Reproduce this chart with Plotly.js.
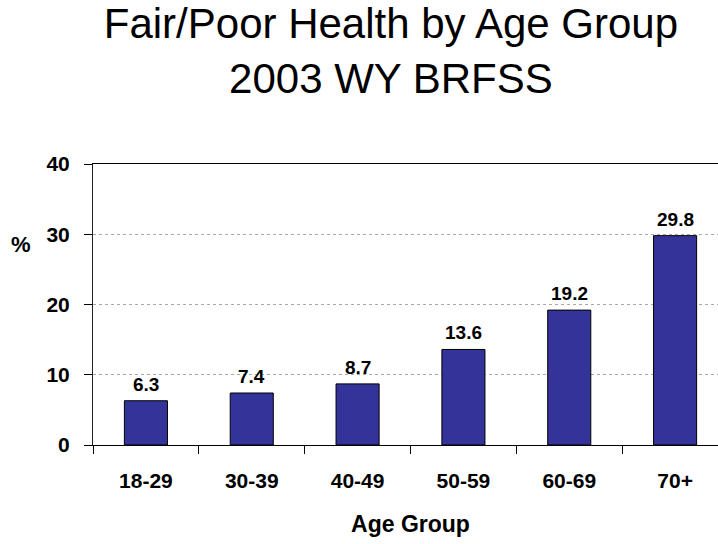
<!DOCTYPE html>
<html>
<head>
<meta charset="utf-8">
<script src="https://cdn.plot.ly/plotly-3.0.1.min.js"></script>
<style>
  html, body { margin: 0; padding: 0; overflow: hidden; background: #fff; }
  #chart { width: 728px; height: 544px; }
</style>
</head>
<body>
<div id="chart"></div>
<script>
const categories = ["18-29", "30-39", "40-49", "50-59", "60-69", "70+"];
const values = [6.3, 7.4, 8.7, 13.6, 19.2, 29.8];
const yTicks = [0, 10, 20, 30, 40];
const titleLines = ["Fair/Poor Health by Age Group", "2003 WY BRFSS"];
const xTitle = "Age Group";
const yTitle = "%";

const FONT = "Liberation Sans, Arial, sans-serif";

const trace = {
  type: "bar",
  x: categories,
  y: values,
  width: 0.407,
  marker: { color: "#333399", line: { color: "#000000", width: 1 } },
  hoverinfo: "x+y"
};

const labelAnnotations = categories.map((c, i) => ({
  x: c, y: values[i], xref: "x", yref: "y",
  text: values[i].toFixed(1),
  showarrow: false, yanchor: "bottom", yshift: 4,
  font: { family: FONT, size: 19, color: "#000", weight: "bold" }
}));

const layout = {
  width: 728, height: 544,
  margin: { l: 93, r: 0, t: 164, b: 99, pad: 0 },
  paper_bgcolor: "#ffffff", plot_bgcolor: "#ffffff",
  showlegend: false,
  bargap: 0.5,
  title: {
    text: titleLines.join("<br>"),
    font: { family: FONT, size: 42, color: "#000" },
    xref: "container", x: 0.537, xanchor: "center",
    yref: "container", y: 0.93, yanchor: "top"
  },
  xaxis: {
    type: "category",
    range: [-0.5, 5.5],
    tickson: "boundaries",
    ticks: "outside", ticklen: 8, tickcolor: "#000", tickwidth: 1,
    ticklabelstandoff: 17,
    showline: true, linecolor: "#000", linewidth: 1, mirror: true,
    showgrid: false, zeroline: false,
    tickfont: { family: FONT, size: 21, color: "#000", weight: "bold" },
    title: { text: xTitle, standoff: 24, font: { family: FONT, size: 23, color: "#000", weight: "bold" } },
    fixedrange: true
  },
  yaxis: {
    range: [0, 40],
    tickvals: yTicks,
    ticktext: yTicks.map(String),
    ticks: "outside", ticklen: 8, tickcolor: "#000", tickwidth: 1,
    ticklabelstandoff: 10,
    showline: true, linecolor: "#222", linewidth: 1,
    showgrid: true, gridcolor: "#a8a8a8", gridwidth: 1, griddash: "dot",
    zeroline: false,
    tickfont: { family: FONT, size: 21, color: "#000", weight: "bold" },
    fixedrange: true
  },
  annotations: labelAnnotations.concat([{
    xref: "paper", yref: "paper",
    x: (21 - 93) / 635, y: (444.7 - 244) / 281,
    xanchor: "center", yanchor: "middle",
    text: yTitle, showarrow: false,
    font: { family: FONT, size: 22, color: "#000", weight: "bold" }
  }])
};

Plotly.newPlot("chart", [trace], layout, { displayModeBar: false, staticPlot: true });
</script>
</body>
</html>
